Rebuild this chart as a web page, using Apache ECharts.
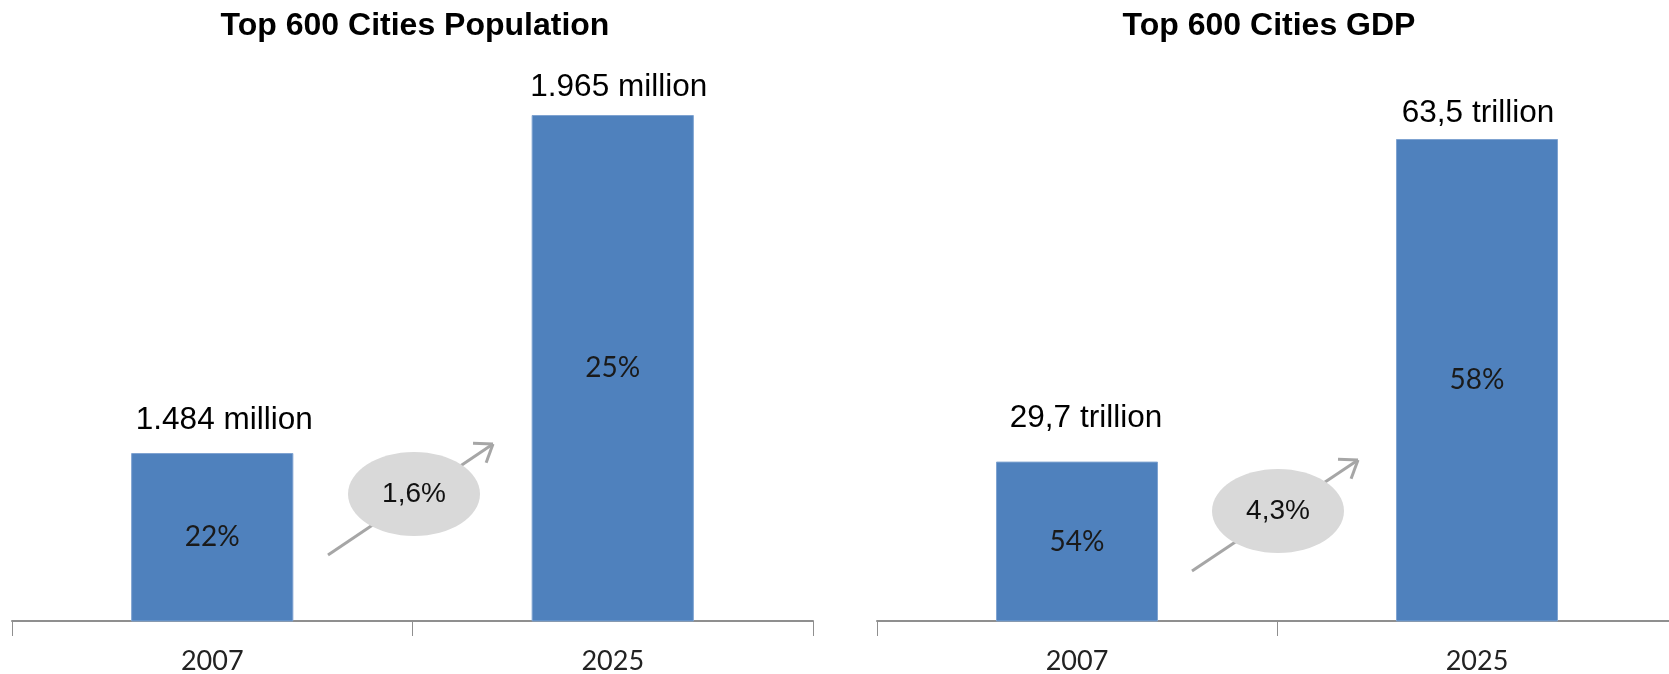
<!DOCTYPE html>
<html>
<head>
<meta charset="utf-8">
<script src="https://cdn.jsdelivr.net/npm/echarts@6/dist/echarts.min.js"></script>
<style>
  html, body { margin: 0; padding: 0; background: #fff; }
  #chart { width: 1669px; height: 674px; }
</style>
</head>
<body>
<div id="chart"></div>
<script>
// data
var years = ['2007', '2025']
var popValues = [1484, 1965]
var popLabels = ['1.484 million', '1.965 million']
var popShare = ['22%', '25%']
var gdpValues = [29.7, 63.5]
var gdpLabels = ['29,7 trillion', '63,5 trillion']
var gdpShare = ['54%', '58%']
var growth = ['1,6%', '4,3%']

var barColor = '#4F81BD'
var axisGray = '#8f8f8f'
// small nudges of the value texts, as placed in the original slide
var popLabelOffset = [[12, -5], [6, 0]]
var gdpLabelOffset = [[9, -15], [1, 2]]

function xAxisFor (gridIndex) {
  return {
    type: 'category',
    gridIndex: gridIndex,
    data: years,
    axisLine: { lineStyle: { color: axisGray, width: 2 } },
    axisTick: { show: true, length: 15, lineStyle: { color: axisGray, width: 1 } },
    axisLabel: { color: '#222', fontFamily: 'Lato', fontSize: 27, margin: 27 }
  }
}

function barPair (idx, values, tops, shares, offsets) {
  return [
    {
      type: 'bar',
      xAxisIndex: idx,
      yAxisIndex: idx,
      data: values,
      barWidth: '40.5%',
      itemStyle: { color: barColor, borderColor: '#7fa3d1', borderWidth: 1 },
      label: {
        show: true,
        position: 'inside',
        color: '#1a1a1a',
        fontFamily: 'Lato',
        fontSize: 28,
        formatter: function (p) { return shares[p.dataIndex] }
      },
      silent: true
    },
    {
      // transparent overlay only for the value text above the bar
      type: 'bar',
      xAxisIndex: idx,
      yAxisIndex: idx,
      data: values.map(function (v, i) {
        return { value: v, label: { offset: offsets[i] } }
      }),
      barWidth: '40.5%',
      barGap: '-100%',
      itemStyle: { color: 'transparent' },
      label: {
        show: true,
        position: 'top',
        distance: 12,
        color: '#000',
        fontFamily: 'Liberation Sans, Arial',
        fontSize: 31.5,
        formatter: function (p) { return tops[p.dataIndex] }
      },
      silent: true
    }
  ]
}

var chart = echarts.init(document.getElementById('chart'))
var option = {
  animation: false,
  title: [
    {
      text: 'Top 600 Cities Population',
      left: 410,
      top: 5,
      textAlign: 'center',
      textStyle: { fontFamily: 'Liberation Sans, Arial', fontWeight: 'bold', fontSize: 32, color: '#000' }
    },
    {
      text: 'Top 600 Cities GDP',
      left: 1264,
      top: 5,
      textAlign: 'center',
      textStyle: { fontFamily: 'Liberation Sans, Arial', fontWeight: 'bold', fontSize: 32, color: '#000' }
    }
  ],
  grid: [
    { left: 12, right: 856, top: 115, bottom: 53, outerBoundsMode: 'none' },
    // the right axis runs past the edge of the slide
    { left: 877, right: -8, top: 139, bottom: 53, outerBoundsMode: 'none' }
  ],
  xAxis: [xAxisFor(0), xAxisFor(1)],
  yAxis: [
    { type: 'value', gridIndex: 0, min: 1245, max: 1965, show: false },
    { type: 'value', gridIndex: 1, min: 13, max: 63.5, show: false }
  ],
  series: barPair(0, popValues, popLabels, popShare, popLabelOffset)
    .concat(barPair(1, gdpValues, gdpLabels, gdpShare, gdpLabelOffset))
}
chart.setOption(option)

// growth bubbles with arrows between the bars
function arrowGroup (x1, y1, x2, y2, cx, cy, text) {
  var ang = Math.atan2(y2 - y1, x2 - x1)
  var head = 20
  var spread = Math.PI / 5
  var lineStyle = { stroke: '#a6a6a6', lineWidth: 3 }
  return [
    { type: 'line', shape: { x1: x1, y1: y1, x2: x2, y2: y2 }, style: lineStyle },
    { type: 'line', shape: { x1: x2, y1: y2, x2: x2 - head * Math.cos(ang - spread), y2: y2 - head * Math.sin(ang - spread) }, style: lineStyle },
    { type: 'line', shape: { x1: x2, y1: y2, x2: x2 - head * Math.cos(ang + spread), y2: y2 - head * Math.sin(ang + spread) }, style: lineStyle },
    { type: 'ellipse', shape: { cx: cx, cy: cy, rx: 66, ry: 42 }, style: { fill: '#d9d9d9' } },
    {
      type: 'text', x: cx, y: cy,
      style: { text: text, fill: '#111', font: '28px "Liberation Sans", Arial', align: 'center', verticalAlign: 'middle' }
    }
  ]
}

chart.setOption({
  graphic: arrowGroup(328, 555, 493, 444, 414, 494, growth[0])
    .concat(arrowGroup(1192, 571, 1358, 460, 1278, 511, growth[1]))
})
</script>
</body>
</html>
